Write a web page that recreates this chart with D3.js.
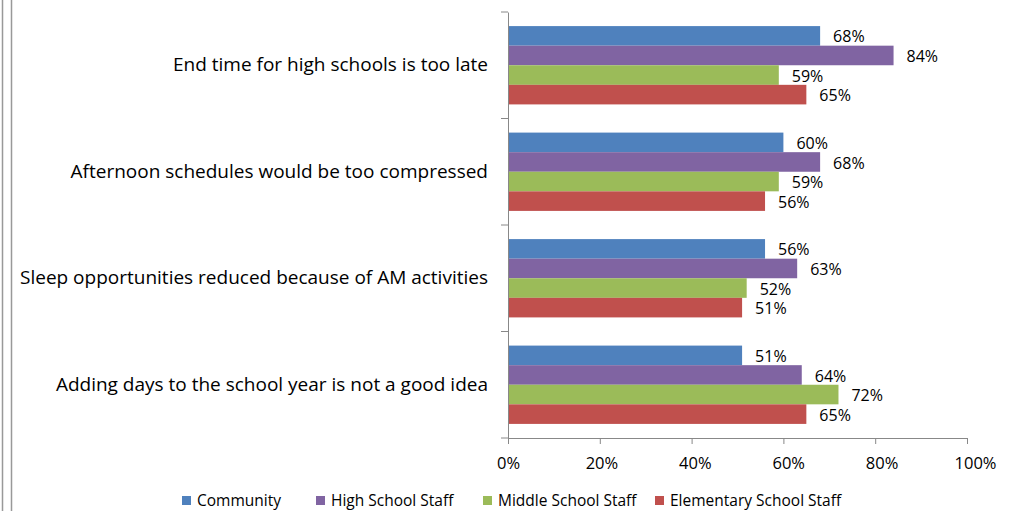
<!DOCTYPE html>
<html>
<head>
<meta charset="utf-8">
<script src="https://cdn.jsdelivr.net/npm/d3@7"></script>
<style>
  body { margin: 0; background: #fff; }
  svg { display: block; }
  text { font-family: "Open Sans", sans-serif; fill: #000; }
</style>
</head>
<body>
<div id="chart"></div>
<script>
const categories = [
  'End time for high schools is too late',
  'Afternoon schedules would be too compressed',
  'Sleep opportunities reduced because of AM activities',
  'Adding days to the school year is not a good idea'
];
const seriesNames = ['Community', 'High School Staff', 'Middle School Staff', 'Elementary School Staff'];
const seriesColors = ['#4F81BD', '#8064A2', '#9BBB59', '#C0504D'];
const community = [0.68, 0.60, 0.56, 0.51];
const highSchool = [0.84, 0.68, 0.63, 0.64];
const middleSchool = [0.59, 0.59, 0.52, 0.72];
const elementary = [0.65, 0.56, 0.51, 0.65];
const xTicks = [0, 0.2, 0.4, 0.6, 0.8, 1.0];

const seriesValues = [community, highSchool, middleSchool, elementary];
const width = 1011, height = 511;
const margin = { top: 12, right: 44, bottom: 73, left: 508 };

const svg = d3.select('#chart').append('svg')
  .attr('width', width).attr('height', height);

// outer frame lines at the left edge
svg.append('line').attr('x1', 2.5).attr('x2', 2.5).attr('y1', 0).attr('y2', height)
  .attr('stroke', '#999').attr('stroke-width', 1.5);
svg.append('line').attr('x1', 11.5).attr('x2', 11.5).attr('y1', 0).attr('y2', height)
  .attr('stroke', '#999').attr('stroke-width', 1.5);

const x = d3.scaleLinear().domain([0, 1]).range([margin.left, width - margin.right]);
const y = d3.scaleBand().domain(categories).range([margin.top, height - margin.bottom]);
const ySeries = d3.scaleBand().domain(seriesNames)
  .range([0, y.bandwidth()]).paddingOuter(0.72).paddingInner(0);

const data = [];
categories.forEach((c, i) => {
  seriesNames.forEach((s, j) => {
    data.push({ cat: c, series: s, value: seriesValues[j][i], color: seriesColors[j] });
  });
});

// bars
svg.selectAll('.bar').data(data).enter().append('rect')
  .attr('class', 'bar')
  .attr('x', x(0))
  .attr('y', d => y(d.cat) + ySeries(d.series))
  .attr('width', d => x(d.value) - x(0))
  .attr('height', ySeries.bandwidth())
  .attr('fill', d => d.color);

// value labels
svg.selectAll('.lbl').data(data).enter().append('text')
  .attr('class', 'lbl')
  .attr('x', d => x(d.value) + 13)
  .attr('y', d => y(d.cat) + ySeries(d.series) + ySeries.bandwidth() / 2 + 1)
  .attr('dy', '0.35em')
  .style('font-size', '16px')
  .text(d => Math.round(d.value * 100) + '%');

// y axis
const yAxis = svg.append('g')
  .attr('transform', 'translate(' + margin.left + ',0)')
  .call(d3.axisLeft(y).tickSize(0).tickPadding(20));
yAxis.select('.domain').attr('stroke', '#888');
yAxis.selectAll('text').style('font-size', '19px').style('fill', '#000');
// tick marks between categories
const bounds = categories.map(c => y(c)).concat([y(categories[categories.length - 1]) + y.bandwidth()]);
svg.selectAll('.ytick').data(bounds).enter().append('line')
  .attr('x1', margin.left - 7).attr('x2', margin.left)
  .attr('y1', d => d).attr('y2', d => d)
  .attr('stroke', '#888');

// x axis
const xAxis = svg.append('g')
  .attr('transform', 'translate(0,' + (height - margin.bottom) + ')')
  .call(d3.axisBottom(x).tickValues(xTicks).tickFormat(d3.format('.0%')).tickSize(6).tickSizeOuter(0).tickPadding(13));
xAxis.selectAll('.domain, line').attr('stroke', '#888');
xAxis.selectAll('text').style('font-size', '16.5px').style('fill', '#000')
  .attr('dx', (d, i) => i * 1.6);

// legend
const legendX = [182, 316, 483, 655];
const legend = svg.selectAll('.leg').data(seriesNames).enter().append('g')
  .attr('class', 'leg')
  .attr('transform', (d, i) => 'translate(' + legendX[i] + ',501)');
legend.append('rect').attr('x', 0).attr('y', -5).attr('width', 9).attr('height', 9)
  .attr('fill', (d, i) => seriesColors[i]);
legend.append('text').attr('x', 15).attr('y', 0).attr('dy', '0.35em')
  .style('font-size', '15.5px').text(d => d);
</script>
</body>
</html>
